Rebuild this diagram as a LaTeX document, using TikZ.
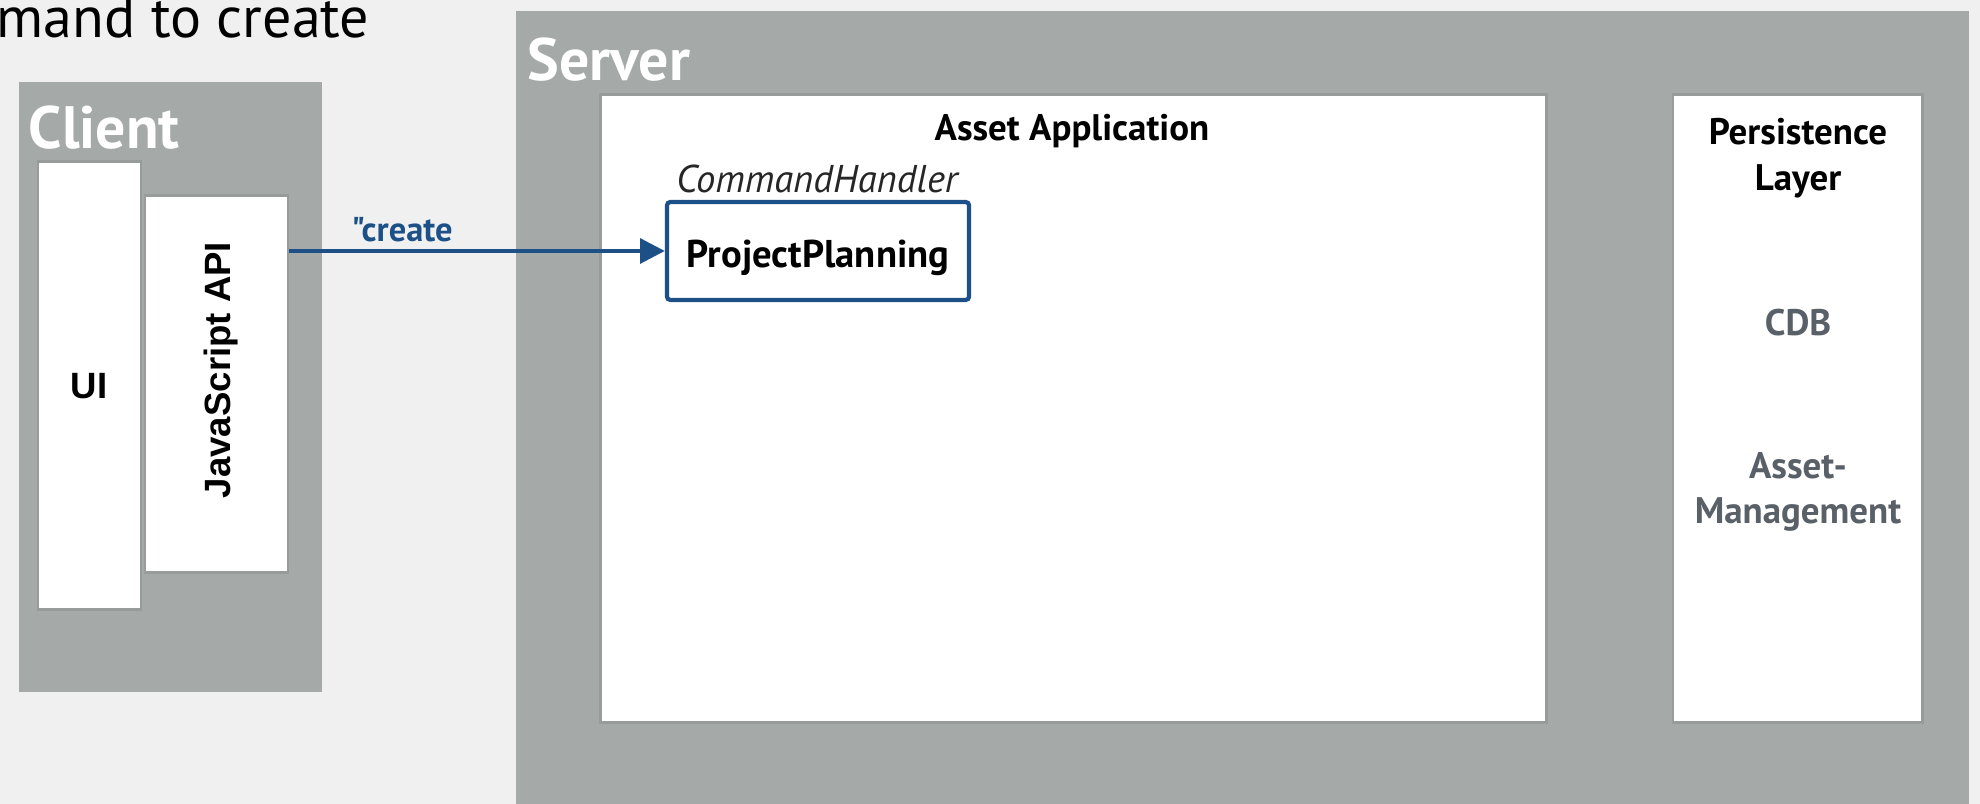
\documentclass[tikz,border=0pt]{standalone}
\usepackage{fontspec}
\setmainfont{PT Sans}
\newfontfamily\arialfont{Liberation Sans}
\newfontfamily\quotefont{PT Sans}[Ligatures=TeXOff]
\usetikzlibrary{arrows.meta}
\definecolor{bg}{HTML}{F0F0F0}
\definecolor{panel}{HTML}{A5A9A8}
\definecolor{edge}{HTML}{979B9A}
\definecolor{navy}{HTML}{1D5087}
\definecolor{muted}{HTML}{5A6068}
\tikzset{
  panelbox/.style={fill=panel, draw=none, inner sep=0pt},
  whitebox/.style={fill=white, draw=edge, line width=0.8pt, inner sep=0pt},
  handlerbox/.style={fill=white, draw=navy, line width=1.2pt, rounded corners=1pt, inner sep=0pt},
  paneltitle/.style={text=white, font=\fontsize{17}{20}\selectfont\bfseries, anchor=west, inner sep=0pt},
  heading/.style={font=\fontsize{10.5}{13}\selectfont\bfseries, inner sep=0pt},
  grayitem/.style={font=\fontsize{10.5}{13}\selectfont\bfseries, text=muted, inner sep=0pt, align=center},
  clientlabel/.style={font=\arialfont\fontsize{10.4}{13}\selectfont\bfseries, inner sep=0pt},
  flow/.style={draw=navy, line width=1.1pt, -{Triangle[length=7pt,width=7pt]}}
}
\begin{document}
\begin{tikzpicture}[x=0.01cm,y=-0.01cm]
\useasboundingbox (0,0) rectangle (1980,804);
\fill[bg] (0,0) rectangle (1980,804);
% title fragment
\node[anchor=base west, inner sep=0pt, font=\fontsize{16.5}{20}\selectfont] (title) at (-4,38) {mand to create};
% client
\node[panelbox, minimum width=3.03cm, minimum height=6.10cm] (client) at (170.5,387) {};
\node[paneltitle] (clienttitle) at (28,128) {Client};
\node[whitebox, minimum width=1.03cm, minimum height=4.47cm] (ui) at (89.5,385.5) {};
\node[clientlabel] (uilabel) at (89,386) {UI};
\node[whitebox, minimum width=1.43cm, minimum height=3.76cm] (js) at (216.5,384) {};
\node[clientlabel, rotate=90] (jslabel) at (221,370) {JavaScript API};
% server
\node[panelbox, minimum width=14.53cm, minimum height=7.93cm] (server) at (1242.5,407.5) {};
\node[paneltitle] (servertitle) at (527,60) {Server};
\node[whitebox, minimum width=9.45cm, minimum height=6.27cm] (app) at (1073.5,408.5) {};
\node[heading] (apptitle) at (1072,131) {Asset Application};
\node[inner sep=0pt, font=\fontsize{11}{13}\selectfont\itshape, text=black!85] (cmdh) at (817,179) {CommandHandler};
\node[handlerbox, minimum width=3.02cm, minimum height=0.98cm] (pp) at (818,251) {};
\node[font=\fontsize{11}{13}\selectfont\bfseries, inner sep=0pt] (pplabel) at (818,258) {ProjectPlanning};
\node[whitebox, minimum width=2.49cm, minimum height=6.27cm] (persist) at (1797.5,408.5) {};
\node[heading, align=center] (persisttitle) at (1798,158) {Persistence\\Layer};
\node[grayitem] (cdb) at (1798,323) {CDB};
\node[grayitem] (am) at (1798,492) {Asset-\\Management};
% connector
\draw[flow] (js.east |- pp.west) -- node[above=2pt, inner sep=0pt, font=\quotefont\fontsize{9.8}{12}\selectfont\bfseries, text=navy, pos=0.3] (cmdlabel) {"create} (pp.west);
\end{tikzpicture}
\end{document}
